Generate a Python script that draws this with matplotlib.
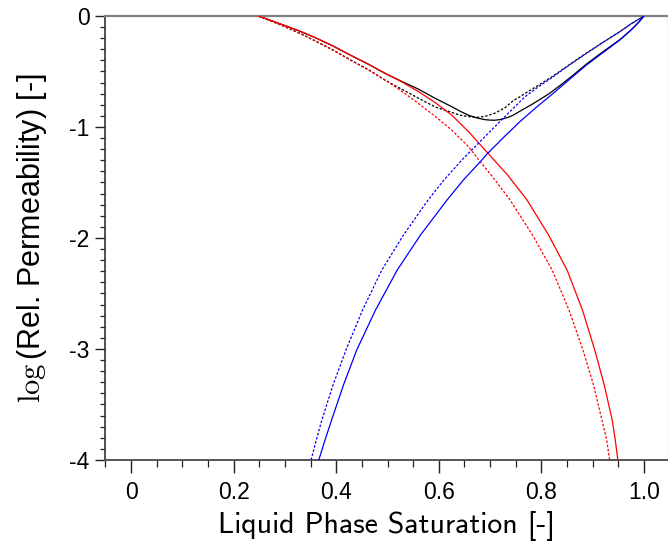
import numpy as np
import matplotlib
matplotlib.use("Agg")
import matplotlib.pyplot as plt
from matplotlib.ticker import MultipleLocator, FixedLocator

plt.rcParams['mathtext.fontset'] = 'cm'

# gas phase (red): solid and dotted
gas_s = [0.248, 0.272, 0.297, 0.330, 0.362, 0.395, 0.427, 0.461, 0.495, 0.528,
         0.560, 0.593, 0.625, 0.658, 0.690, 0.734, 0.772, 0.814, 0.850, 0.880,
         0.904, 0.9225, 0.938, 0.944, 0.949]
gas_kr = [0.0, -0.039, -0.081, -0.138, -0.201, -0.273, -0.351, -0.430, -0.516, -0.594,
          -0.680, -0.780, -0.892, -1.042, -1.207, -1.432, -1.658, -1.973, -2.288, -2.649,
          -3.009, -3.324, -3.640, -3.820, -4.0]
gas_s_d = [0.248, 0.272, 0.297, 0.330, 0.362, 0.395, 0.427, 0.464, 0.500, 0.530,
           0.560, 0.593, 0.625, 0.658, 0.678, 0.7096, 0.739, 0.7826, 0.821, 0.8538,
           0.881, 0.9016, 0.918, 0.9273, 0.933]
gas_kr_d = [0.0, -0.043, -0.090, -0.158, -0.231, -0.310, -0.396, -0.490, -0.590, -0.686,
            -0.787, -0.904, -1.027, -1.177, -1.297, -1.477, -1.658, -1.973, -2.288, -2.649,
            -3.009, -3.324, -3.640, -3.820, -4.0]

# liquid phase (blue): solid and dotted
liq_s = [0.366, 0.3782, 0.391, 0.4142, 0.440, 0.4766, 0.519, 0.5643, 0.616, 0.648,
         0.684, 0.694, 0.726, 0.758, 0.790, 0.823, 0.855, 0.888, 0.920, 0.953,
         0.975, 0.990, 1.0]
liq_kr = [-4.0, -3.820, -3.640, -3.324, -3.009, -2.649, -2.288, -1.973, -1.658, -1.477,
          -1.297, -1.243, -1.095, -0.952, -0.823, -0.697, -0.570, -0.441, -0.330, -0.216,
          -0.125, -0.055, 0.0]
liq_s_d = [0.351, 0.3612, 0.372, 0.3938, 0.419, 0.4513, 0.489, 0.5312, 0.579, 0.6101,
           0.645, 0.706, 0.768, 0.795, 0.823, 0.855, 0.888, 0.920, 0.953, 0.975, 1.0]
liq_kr_d = [-4.0, -3.820, -3.640, -3.324, -3.009, -2.649, -2.288, -1.973, -1.658, -1.477,
            -1.297, -1.012, -0.727, -0.635, -0.547, -0.440, -0.336, -0.238, -0.141, -0.070, 0.0]

# total (black): solid and dotted
tot_s = [0.248, 0.272, 0.297, 0.330, 0.362, 0.395, 0.427, 0.461, 0.495, 0.528,
         0.560, 0.593, 0.625, 0.642, 0.658, 0.674, 0.690, 0.700, 0.709, 0.720,
         0.735, 0.746, 0.758, 0.768, 0.782, 0.797, 0.815, 0.836, 0.860, 0.888,
         0.920, 0.953, 0.975, 0.990, 1.0]
tot_kr = [0.0, -0.039, -0.081, -0.138, -0.201, -0.273, -0.351, -0.430, -0.516, -0.590,
          -0.658, -0.742, -0.816, -0.859, -0.894, -0.918, -0.934, -0.938, -0.939, -0.933,
          -0.913, -0.891, -0.858, -0.832, -0.795, -0.752, -0.700, -0.627, -0.540, -0.432,
          -0.322, -0.213, -0.125, -0.055, 0.0]
tot_s_d = [0.248, 0.272, 0.297, 0.330, 0.362, 0.395, 0.427, 0.464, 0.495, 0.530,
           0.560, 0.593, 0.625, 0.642, 0.658, 0.668, 0.677, 0.690, 0.700, 0.710,
           0.730, 0.745, 0.758, 0.768, 0.795, 0.823, 0.855, 0.888, 0.920, 0.953,
           0.975, 1.0]
tot_kr_d = [0.0, -0.043, -0.090, -0.158, -0.231, -0.310, -0.394, -0.486, -0.578, -0.665,
            -0.740, -0.820, -0.868, -0.894, -0.906, -0.912, -0.912, -0.904, -0.890, -0.874,
            -0.824, -0.762, -0.728, -0.698, -0.622, -0.540, -0.437, -0.333, -0.237, -0.140,
            -0.070, 0.0]

xticks = [0, 0.2, 0.4, 0.6, 0.8, 1.0]
xticklabels = ['0', '0.2', '0.4', '0.6', '0.8', '1.0']
yticks = [0, -1, -2, -3, -4]

W, H = 668, 548
fig = plt.figure(figsize=(W / 100, H / 100), dpi=100)
ax = fig.add_axes([105 / W, (H - 460) / H, (667.5 - 105) / W, (460 - 16) / H])

dot = (0, (2.0, 1.4))
lw = 0.9
ax.plot(tot_s, tot_kr, color='black', lw=lw, zorder=2)
ax.plot(tot_s_d, tot_kr_d, color='black', lw=lw, ls=dot, zorder=2)
ax.plot(gas_s, gas_kr, color='#ff0000', lw=lw, zorder=3)
ax.plot(gas_s_d, gas_kr_d, color='#ff0000', lw=lw, ls=dot, zorder=3)
ax.plot(liq_s, liq_kr, color='#0000ff', lw=lw, zorder=3)
ax.plot(liq_s_d, liq_kr_d, color='#0000ff', lw=lw, ls=dot, zorder=3)

ax.set_xlim(-0.0507, 1.0458)
ax.set_ylim(-4, 0)

ax.spines['top'].set_color('#808080')
ax.spines['top'].set_linewidth(1.6)
ax.spines['right'].set_color('#c8c8c8')
ax.spines['right'].set_linewidth(1.0)
ax.spines['left'].set_color('#333333')
ax.spines['left'].set_linewidth(1.2)
ax.spines['bottom'].set_color('#555555')
ax.spines['bottom'].set_linewidth(1.4)

ax.xaxis.set_major_locator(FixedLocator(xticks))
ax.set_xticklabels(xticklabels)
ax.xaxis.set_minor_locator(MultipleLocator(0.05))
ax.yaxis.set_major_locator(FixedLocator(yticks))
ax.set_yticklabels([str(v) for v in yticks])
ax.yaxis.set_minor_locator(MultipleLocator(0.1))

ax.tick_params(axis='x', which='major', direction='out', length=9, width=1.0,
               color='#222222', pad=6, labelsize=16.5)
ax.tick_params(axis='x', which='minor', direction='out', length=5, width=0.9, color='#222222')
ax.tick_params(axis='y', which='major', direction='out', length=7, width=1.0,
               color='#222222', pad=4, labelsize=16.5)
ax.tick_params(axis='y', which='minor', direction='out', length=3.6, width=0.9, color='#222222')
ax.tick_params(top=False, right=False, which='both')
for lab in ax.get_xticklabels() + ax.get_yticklabels():
    lab.set_family('Liberation Sans')

ax.set_xlabel('Liquid Phase Saturation [-]', family='cmss10', fontsize=21.5, labelpad=5)
ax.set_ylabel(r'$\log$(Rel. Permeability) [-]', family='Liberation Sans', fontsize=22, labelpad=15)

fig.savefig('out.png', dpi=100)
